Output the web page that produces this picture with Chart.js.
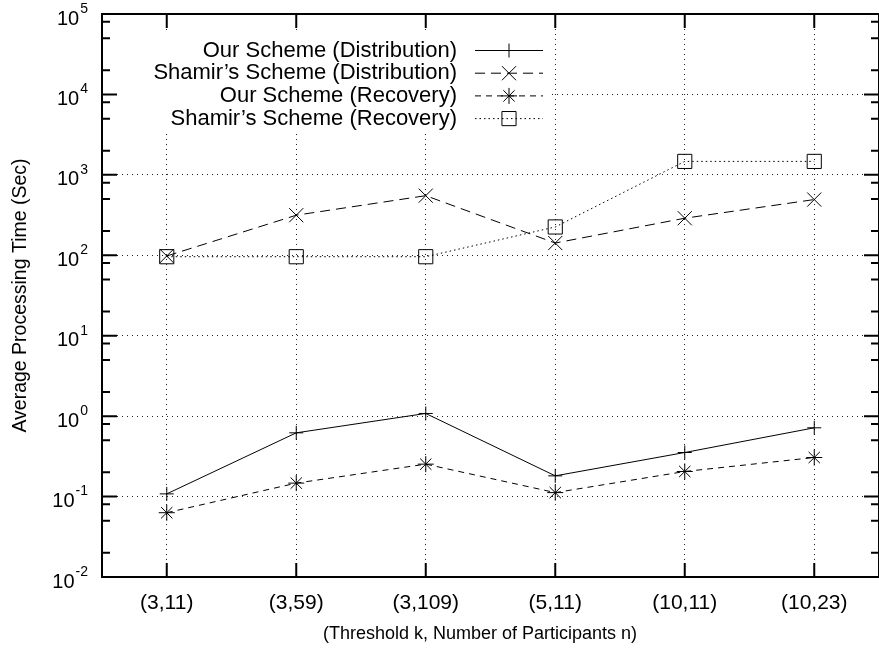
<!DOCTYPE html>
<html>
<head>
<meta charset="utf-8">
<script src="https://cdn.jsdelivr.net/npm/chart.js@4.4.1/dist/chart.umd.min.js"></script>
<style>
  html, body { margin: 0; padding: 0; background: #fff; overflow: hidden; }
  #wrap { width: 890px; height: 655px; }
</style>
</head>
<body>
<div id="wrap"><canvas id="chart"></canvas></div>
<script>
// values (seconds, log axis)
const categories = ['(3,11)', '(3,59)', '(3,109)', '(5,11)', '(10,11)', '(10,23)'];
const ourDistribution    = [0.108, 0.62, 1.08, 0.181, 0.353, 0.716];
const shamirDistribution = [98, 315, 551, 142, 289, 493];
const ourRecovery        = [0.063, 0.147, 0.253, 0.112, 0.205, 0.306];
const shamirRecovery     = [96, 96, 96, 225, 1470, 1470];
const yDecades = [-2, -1, 0, 1, 2, 3, 4, 5];   // tick labels 10^e
const yMinorSteps = [2, 5, 8];
const xTitle = '(Threshold k, Number of Participants n)';

const FONT = '"Liberation Sans", Arial, sans-serif';

// simple marker drawing for the key
function drawMarker(ctx, style, r, x, y) {
  ctx.beginPath();
  if (style === 'cross' || style === 'star') {
    ctx.moveTo(x - r, y); ctx.lineTo(x + r, y);
    ctx.moveTo(x, y - r); ctx.lineTo(x, y + r);
  }
  if (style === 'crossRot' || style === 'star') {
    const d = r * Math.SQRT1_2;
    ctx.moveTo(x - d, y - d); ctx.lineTo(x + d, y + d);
    ctx.moveTo(x - d, y + d); ctx.lineTo(x + d, y - d);
  }
  if (style === 'rect') {
    const s = r * Math.SQRT1_2;
    ctx.rect(x - s, y - s, 2 * s, 2 * s);
  }
  ctx.stroke();
}

// gnuplot-like key: opaque box that hides the grid behind it
const keyBox = {
  id: 'keyBox',
  beforeDatasetsDraw(chart) {
    const ctx = chart.ctx;
    ctx.save();
    ctx.fillStyle = '#fff';
    ctx.fillRect(104, 31, 448, 102);
    ctx.restore();
  },
  afterDraw(chart) {
    const ctx = chart.ctx;
    ctx.save();
    chart.data.datasets.forEach((ds, i) => {
      const yy = 50.5 + i * 22.7;
      ctx.fillStyle = '#000';
      ctx.font = '22px ' + FONT;
      ctx.textAlign = 'right';
      ctx.textBaseline = 'middle';
      ctx.fillText(ds.label, 457, yy);
      ctx.strokeStyle = '#000';
      ctx.lineWidth = 1;
      ctx.setLineDash(ds.borderDash || []);
      ctx.beginPath();
      ctx.moveTo(475, yy); ctx.lineTo(543, yy);
      ctx.stroke();
      ctx.setLineDash([]);
      drawMarker(ctx, ds.pointStyle, ds.pointRadius, 509, yy);
    });
    ctx.restore();
  }
};

// border, inward ticks on all four sides, 10^e labels and the x title
const frameAndTicks = {
  id: 'frameAndTicks',
  afterDraw(chart) {
    const { ctx, chartArea: a, scales: { x, y } } = chart;
    ctx.save();
    ctx.strokeStyle = '#000';
    ctx.lineWidth = 2;
    ctx.beginPath();
    categories.forEach((c, i) => {
      const px = x.getPixelForValue(i);
      ctx.moveTo(px, a.bottom); ctx.lineTo(px, a.bottom - 14);
      ctx.moveTo(px, a.top); ctx.lineTo(px, a.top + 14);
    });
    yDecades.forEach(e => {
      const py = y.getPixelForValue(Math.pow(10, e));
      ctx.moveTo(a.left, py); ctx.lineTo(a.left + 15, py);
      ctx.moveTo(a.right, py); ctx.lineTo(a.right - 15, py);
      if (e < 5) {
        yMinorSteps.forEach(m => {
          const pm = y.getPixelForValue(m * Math.pow(10, e));
          ctx.moveTo(a.left, pm); ctx.lineTo(a.left + 8, pm);
          ctx.moveTo(a.right, pm); ctx.lineTo(a.right - 8, pm);
        });
      }
    });
    ctx.stroke();
    ctx.strokeRect(a.left, a.top, a.right - a.left, a.bottom - a.top);

    ctx.fillStyle = '#000';
    ctx.textAlign = 'right';
    ctx.textBaseline = 'middle';
    yDecades.forEach(e => {
      const py = y.getPixelForValue(Math.pow(10, e));
      const exp = String(e);
      ctx.font = '14px ' + FONT;
      const ew = ctx.measureText(exp).width;
      ctx.fillText(exp, 88, py - 5);
      ctx.font = '20px ' + FONT;
      ctx.fillText('10', 88 - ew - 1, py + 5);
    });

    ctx.textAlign = 'center';
    ctx.font = '18px ' + FONT;
    ctx.fillText(xTitle, 480, 634);
    ctx.restore();
  }
};

const gridStyle = { color: '#222', lineWidth: 1, drawTicks: false, borderDash: [1, 4] };

new Chart(document.getElementById('chart'), {
  type: 'line',
  data: {
    labels: categories,
    datasets: [
      { label: 'Our Scheme (Distribution)', data: ourDistribution, borderDash: [], pointStyle: 'cross', pointRadius: 7 },
      { label: 'Shamir\u2019s Scheme (Distribution)', data: shamirDistribution, borderDash: [10, 6], pointStyle: 'crossRot', pointRadius: 10 },
      { label: 'Our Scheme (Recovery)', data: ourRecovery, borderDash: [6, 5], pointStyle: 'star', pointRadius: 8 },
      { label: 'Shamir\u2019s Scheme (Recovery)', data: shamirRecovery, borderDash: [1.5, 3], pointStyle: 'rect', pointRadius: 10 }
    ].map(d => Object.assign({
      borderColor: '#000', borderWidth: 1, fill: false, tension: 0,
      pointBorderColor: '#000', pointBackgroundColor: 'rgba(0,0,0,0)', pointBorderWidth: 1
    }, d))
  },
  options: {
    responsive: true,
    maintainAspectRatio: false,
    animation: false,
    layout: { padding: { left: 0, right: 6, top: 14, bottom: 0 } },
    plugins: { legend: { display: false }, tooltip: { enabled: false } },
    scales: {
      x: {
        type: 'category',
        offset: true,
        grid: Object.assign({ offset: false }, gridStyle),
        border: { display: false, dash: [1, 4] },
        ticks: { color: '#000', font: { family: FONT, size: 21 }, padding: 14, maxRotation: 0 },
        title: { display: false },
        afterFit(s) { s.height = 78; }
      },
      y: {
        type: 'logarithmic',
        min: 0.01,
        max: 100000,
        afterBuildTicks(s) { s.ticks = yDecades.map(e => ({ value: Math.pow(10, e) })); },
        grid: gridStyle,
        border: { display: false, dash: [1, 4] },
        ticks: { display: false },
        title: {
          display: true, text: 'Average Processing Time (Sec)', color: '#000',
          font: { family: FONT, size: 19.5 }, padding: { top: 9, bottom: 0 }
        },
        afterFit(s) { s.width = 102; }
      }
    }
  },
  plugins: [keyBox, frameAndTicks]
});
</script>
</body>
</html>
